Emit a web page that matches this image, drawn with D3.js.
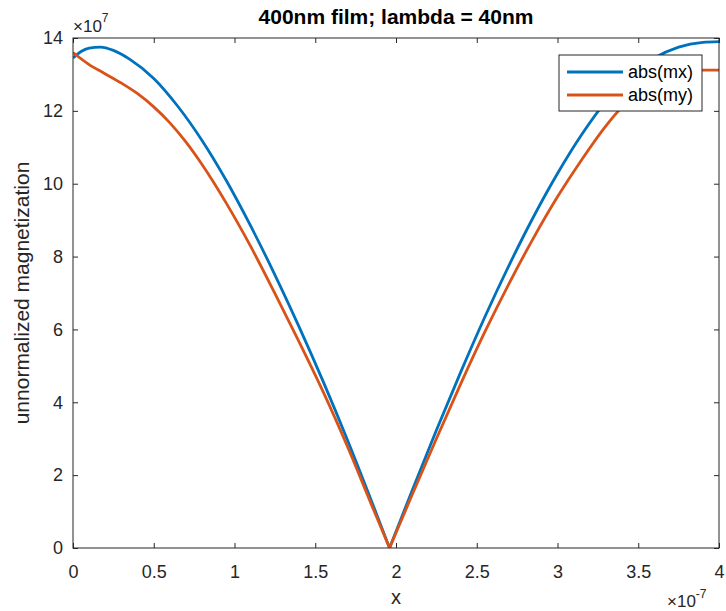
<!DOCTYPE html>
<html>
<head>
<meta charset="utf-8">
<script src="https://cdn.jsdelivr.net/npm/d3@7"></script>
<style>
  html, body { margin: 0; padding: 0; background: #fff; }
  svg { display: block; font-family: "Liberation Sans", Arial, Helvetica, sans-serif; }
</style>
</head>
<body>
<svg id="chart" width="726" height="611"></svg>
<script>
// Position along the film (units of 1e-7 m)
const mxX = [0, 0.05, 0.1, 0.17, 0.25, 0.35, 0.5, 0.65, 0.8, 0.95, 1.1, 1.25, 1.4, 1.55, 1.7, 1.85, 1.96,
             2.1, 2.25, 2.4, 2.55, 2.7, 2.85, 3.0, 3.15, 3.3, 3.45, 3.6, 3.75, 3.9, 4.0];
// |mx| (units of 1e7)
const mxY = [13.45, 13.63, 13.72, 13.75, 13.66, 13.42, 12.89, 12.12, 11.18, 10.08, 8.84, 7.5, 6.07, 4.56, 2.96, 1.27, 0,
             1.58, 3.23, 4.82, 6.34, 7.76, 9.08, 10.28, 11.35, 12.26, 12.95, 13.45, 13.75, 13.88, 13.9];

const myX = [0, 0.1, 0.19, 0.3, 0.4, 0.5, 0.6, 0.7, 0.8, 0.95, 1.1, 1.25, 1.4, 1.55, 1.7, 1.85, 1.96,
             2.1, 2.25, 2.4, 2.55, 2.7, 2.85, 3.0, 3.15, 3.3, 3.45, 3.6, 3.75, 3.9, 4.0];
// |my| (units of 1e7)
const myY = [13.6, 13.27, 13.04, 12.76, 12.47, 12.11, 11.67, 11.14, 10.52, 9.46, 8.28, 6.99, 5.66, 4.28, 2.78, 1.17, 0,
             1.46, 3.0, 4.5, 5.93, 7.26, 8.5, 9.64, 10.66, 11.59, 12.34, 12.85, 13.12, 13.12, 13.12];

const xTicks = [0, 0.5, 1, 1.5, 2, 2.5, 3, 3.5, 4];
const yTicks = [0, 2, 4, 6, 8, 10, 12, 14];

const seriesNames = ["abs(mx)", "abs(my)"];
const seriesColors = ["#0072BD", "#D95319"];

const svg = d3.select("#chart");
const m = { left: 73, right: 719, top: 38, bottom: 548 };
const ink = "#262626";

const x = d3.scaleLinear().domain([0, 4]).range([m.left, m.right]);
const y = d3.scaleLinear().domain([0, 14]).range([m.bottom, m.top]);

// Each curve is drawn as two smooth branches that meet at the sharp minimum.
const line = d3.line().x(d => x(d[0])).y(d => y(d[1])).curve(d3.curveMonotoneX);
function branchPath(xs, ys) {
  const pts = d3.zip(xs, ys);
  const iMin = d3.minIndex(ys);
  const left = line(pts.slice(0, iMin + 1));
  const right = line(pts.slice(iMin)).replace(/^M[^A-Za-z]*/, "");
  return left + right;
}
const paths = [branchPath(mxX, mxY), branchPath(myX, myY)];

svg.append("clipPath").attr("id", "clip").append("rect")
  .attr("x", m.left).attr("y", m.top).attr("width", m.right - m.left).attr("height", m.bottom - m.top);

paths.forEach((d, i) => {
  svg.append("path")
    .attr("d", d)
    .attr("fill", "none")
    .attr("stroke", seriesColors[i])
    .attr("stroke-width", 2.8)
    .attr("stroke-linejoin", "miter")
    .attr("stroke-miterlimit", 10)
    .attr("clip-path", "url(#clip)");
});

// axes: full box with inward ticks
const tickLen = 5;
const axisStyle = g => {
  g.select(".domain").remove();
  g.selectAll("line").attr("stroke", ink).attr("stroke-width", 1);
  g.selectAll("text").attr("fill", ink).attr("font-size", 18);
};
svg.append("g").attr("transform", `translate(0,${m.bottom})`)
  .call(d3.axisBottom(x).tickValues(xTicks).tickSize(-tickLen).tickPadding(17).tickFormat(d3.format("")))
  .call(axisStyle);
svg.append("g").attr("transform", `translate(0,${m.top})`)
  .call(d3.axisTop(x).tickValues(xTicks).tickSize(-tickLen).tickFormat(""))
  .call(axisStyle);
svg.append("g").attr("transform", `translate(${m.left},0)`)
  .call(d3.axisLeft(y).tickValues(yTicks).tickSize(-tickLen).tickPadding(10).tickFormat(d3.format("")))
  .call(axisStyle);
svg.append("g").attr("transform", `translate(${m.right},0)`)
  .call(d3.axisRight(y).tickValues(yTicks).tickSize(-tickLen).tickFormat(""))
  .call(axisStyle);

svg.append("rect")
  .attr("x", m.left).attr("y", m.top)
  .attr("width", m.right - m.left).attr("height", m.bottom - m.top)
  .attr("fill", "none").attr("stroke", ink).attr("stroke-width", 1);

// exponent labels
const yExp = svg.append("text").attr("x", 73).attr("y", 32).attr("fill", ink).attr("font-size", 17);
yExp.append("tspan").text("\u00d710");
yExp.append("tspan").attr("dy", -10).attr("font-size", 12).text("7");

const xExp = svg.append("text").attr("x", 667).attr("y", 607).attr("fill", ink).attr("font-size", 17);
xExp.append("tspan").text("\u00d710");
xExp.append("tspan").attr("dy", -9).attr("font-size", 12).text("-7");

// title and axis labels
svg.append("text").attr("x", (m.left + m.right) / 2).attr("y", 24)
  .attr("text-anchor", "middle").attr("font-weight", "bold").attr("font-size", 21).attr("fill", "#000")
  .text("400nm film; lambda = 40nm");
svg.append("text").attr("x", (m.left + m.right) / 2).attr("y", 604)
  .attr("text-anchor", "middle").attr("font-size", 20).attr("fill", ink).text("x");
svg.append("text")
  .attr("transform", `translate(29,${(m.top + m.bottom) / 2}) rotate(-90)`)
  .attr("text-anchor", "middle").attr("font-size", 21).attr("fill", ink)
  .text("unnormalized magnetization");

// legend
const lg = svg.append("g").attr("transform", "translate(559,55)");
lg.append("rect").attr("width", 143).attr("height", 56)
  .attr("fill", "#fff").attr("stroke", ink).attr("stroke-width", 1);
seriesNames.forEach((name, i) => {
  const yy = 17 + i * 23;
  lg.append("line").attr("x1", 8).attr("x2", 64).attr("y1", yy).attr("y2", yy)
    .attr("stroke", seriesColors[i]).attr("stroke-width", 2.8);
  lg.append("text").attr("x", 69).attr("y", yy + 6).attr("font-size", 18).attr("fill", "#000").text(name);
});
</script>
</body>
</html>
